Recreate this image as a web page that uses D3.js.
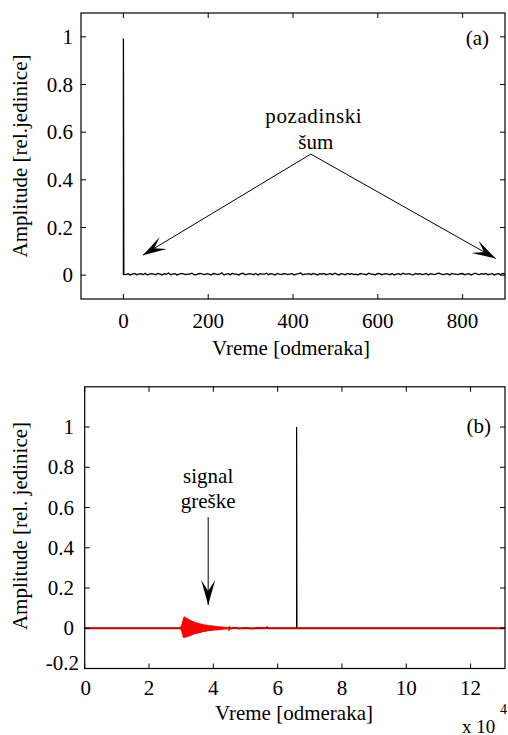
<!DOCTYPE html>
<html>
<head>
<meta charset="utf-8">
<script src="https://cdn.jsdelivr.net/npm/d3@7"></script>
<style>
  body { margin: 0; background: #fff; font-family: "Times New Roman", Times, serif; }
</style>
</head>
<body>
<div id="chart"></div>
<script>
// ---- data (a) ----
var spikeA = [[0, 0], [0, 0.993]];
// background noise, thousandths, read along the trace from x=1 to x=900
var noiseA = [4,2,6,1,4,7,2,4,6,2,8,1,4,6,4,2,7,4,1,6,4,9,2,4,6,1,4,7,5,2,
              4,4,8,2,1,6,7,4,2,6,4,1,7,5,2,4,10,1,4,6,2,7,4,4,1,6,8,2,4,6,
              4,2,7,1,6,4,4,8,2,6,4,1,7,4,2,6,5,2,4,7,1,4,6,9,2,4,4,6,2,7,
              4,1,6,4,7,2,4,6,2,8,4,1,6,4,2,7,4,6,2,4,1,7,5,4,2,8,4,4,1,6,
              7,2,4,6,4,2,7,1,4,6,2,8,4,4,6,2,1,7,4,6,2,4,7,1,6,4,2,6,8,4,
              2,4,6,1,7,4,4,2,6,7,2,4,6,1,4,8,4,2,6,4,7,2,4,6,1,4,6,2,7,4];
var xTicksA = [0, 200, 400, 600, 800];
var yTicksA = [0, 0.2, 0.4, 0.6, 0.8, 1];
var noteA = { text: ["pozadinski", "šum"], from: [442, 0.508], to: [[46, 0.084], [878, 0.07]] };

// ---- data (b) ----  x in samples
var refB = [[0, 0], [65900, 0], [65900, 1.0], [66000, 0], [130700, 0]];
// fault signal burst, thousandths, every 120 samples from 29800
var burstB = [4,-6,10,-15,22,-30,38,-45,52,-48,58,-44,55,-47,50,-42,52,-40,48,-43,
              46,-38,44,-40,42,-35,40,-37,38,-33,36,-34,35,-30,33,-31,32,-28,30,-29,
              29,-26,28,-27,27,-24,26,-25,25,-22,24,-23,23,-21,22,-21,21,-19,20,-19,
              19,-18,19,-17,18,-17,17,-16,17,-15,16,-15,16,-14,15,-14,15,-13,14,-13,
              14,-12,13,-12,13,-11,12,-11,12,-10,11,-10,11,-9,10,-9,10,-9,9,-8,
              9,-8,9,-8,8,-7,8,-7,8,-7,7,-6,7,-6,6,-6,6,-5,5,-5,5,-4,4,-4,
              4,-3,3,-3,3,-2];
var tailB = [[46500, 2], [48000, -1], [50000, 1], [52000, -1], [54000, 1], [56300, 0], [56700, 5], [57100, 0], [130700, 0]];
var xTicksB = [0, 2, 4, 6, 8, 10, 12];
var yTicksB = [-0.2, 0, 0.2, 0.4, 0.6, 0.8, 1];
var noteB = { text: ["signal", "greške"], from: [38400, 0.552], to: [38400, 0.116] };

var W = 508, H = 735, FS = 21;
var FONT = "Times New Roman, Times, serif";
var svg = d3.select("#chart").append("svg").attr("width", W).attr("height", H)
  .attr("font-family", FONT);

function txt(g, s, size) {
  return g.append("text").attr("font-family", FONT).attr("font-size", size || FS)
    .attr("fill", "#000").text(s);
}

function box(g, x, y) {
  var x0 = x.range()[0], x1 = x.range()[1], y0 = y.range()[1], y1 = y.range()[0];
  g.append("rect").attr("x", x0).attr("y", y0).attr("width", x1 - x0).attr("height", y1 - y0)
    .attr("fill", "none").attr("stroke", "#000").attr("stroke-width", 1.2);
}

function ticks(g, x, y, xt, yt, xval, tl) {
  var x0 = x.range()[0], x1 = x.range()[1], yTop = y.range()[1], yBot = y.range()[0];
  xt.forEach(function(t) {
    var px = x(xval(t));
    g.append("line").attr("x1", px).attr("x2", px).attr("y1", yBot).attr("y2", yBot - tl).attr("stroke", "#000");
    g.append("line").attr("x1", px).attr("x2", px).attr("y1", yTop).attr("y2", yTop + tl).attr("stroke", "#000");
  });
  yt.forEach(function(t) {
    var py = y(t);
    g.append("line").attr("x1", x0).attr("x2", x0 + tl).attr("y1", py).attr("y2", py).attr("stroke", "#000");
    g.append("line").attr("x1", x1).attr("x2", x1 - tl).attr("y1", py).attr("y2", py).attr("stroke", "#000");
  });
}

function arrow(g, p0, p1, L, Wd) {
  g.append("line").attr("x1", p0[0]).attr("y1", p0[1]).attr("x2", p1[0]).attr("y2", p1[1])
    .attr("stroke", "#000").attr("stroke-width", 1);
  var dx = p1[0] - p0[0], dy = p1[1] - p0[1], len = Math.sqrt(dx * dx + dy * dy);
  var ux = dx / len, uy = dy / len, nx = -uy, ny = ux;
  var b = [p1[0] - L * ux, p1[1] - L * uy];
  var pts = [p1,
    [b[0] + Wd * nx - 0.25 * L * ux, b[1] + Wd * ny - 0.25 * L * uy],
    [p1[0] - 0.7 * L * ux, p1[1] - 0.7 * L * uy],
    [b[0] - Wd * nx - 0.25 * L * ux, b[1] - Wd * ny - 0.25 * L * uy]];
  g.append("path").attr("d", "M" + pts.join("L") + "Z").attr("fill", "#000");
}

// ================= (a) =================
var gA = svg.append("g");
var xA = d3.scaleLinear().domain([-100, 900]).range([81, 505]);
var yA = d3.scaleLinear().domain([-0.1, 1.1]).range([299, 13]);

var step = 899 / (noiseA.length - 1);
var traceA = spikeA.concat(noiseA.map(function(v, i) { return [1 + i * step, v / 1000]; }));
var line = d3.line().x(function(d) { return xA(d[0]); }).y(function(d) { return yA(d[1]); });
gA.append("path").datum(traceA).attr("d", line).attr("fill", "none").attr("stroke", "#000").attr("stroke-width", 1.3);

ticks(gA, xA, yA, xTicksA, yTicksA, function(t) { return t; }, 5);
box(gA, xA, yA);

xTicksA.forEach(function(d) {
  txt(gA, d).attr("x", xA(d)).attr("y", 328).attr("text-anchor", "middle");
});
yTicksA.forEach(function(d) {
  txt(gA, d).attr("x", 73).attr("y", yA(d) + 7).attr("text-anchor", "end");
});
txt(gA, "Vreme [odmeraka]").attr("x", 291).attr("y", 355).attr("text-anchor", "middle");
txt(gA, "Amplitude [rel.jedinice]").attr("transform", "translate(27,156) rotate(-90)").attr("text-anchor", "middle");
txt(gA, "(a)").attr("x", 489).attr("y", 45).attr("text-anchor", "end");

txt(gA, noteA.text[0]).attr("x", xA(noteA.from[0]) + 3).attr("y", 123).attr("text-anchor", "middle")
  .attr("letter-spacing", 0.6);
txt(gA, noteA.text[1]).attr("x", xA(noteA.from[0]) + 5).attr("y", 149).attr("text-anchor", "middle");
noteA.to.forEach(function(t) {
  arrow(gA, [xA(noteA.from[0]), yA(noteA.from[1])], [xA(t[0]), yA(t[1])], 19, 7);
});

// ================= (b) =================
var gB = svg.append("g");
var xB = d3.scaleLinear().domain([0, 130700]).range([84.7, 505]);
var yB = d3.scaleLinear().domain([-0.2, 1.2]).range([668.5, 386.8]);
var lineB = d3.line().x(function(d) { return xB(d[0]); }).y(function(d) { return yB(d[1]); });

gB.append("path").datum(refB).attr("d", lineB).attr("fill", "none").attr("stroke", "#000").attr("stroke-width", 1.2);

var burstPts = burstB.map(function(v, i) { return [29800 + i * 120, v / 1000]; });
var lastBurst = burstPts[burstPts.length - 1];
gB.append("path").datum([[29600, 0]].concat(burstPts)).attr("d", lineB).attr("fill", "none")
  .attr("stroke", "#ff0000").attr("stroke-width", 1.5);
gB.append("path").datum([[0, 0], [29800, 0]]).attr("d", lineB).attr("fill", "none")
  .attr("stroke", "#cc0000").attr("stroke-width", 2);
gB.append("path").datum([lastBurst].concat(tailB.map(function(d) { return [d[0], d[1] / 1000]; })))
  .attr("d", lineB).attr("fill", "none").attr("stroke", "#cc0000").attr("stroke-width", 2);

ticks(gB, xB, yB, xTicksB, yTicksB, function(t) { return t * 1e4; }, 5);
box(gB, xB, yB);

xTicksB.forEach(function(d) {
  txt(gB, d).attr("x", xB(d * 1e4) + (d === 0 ? 1 : 0)).attr("y", 695).attr("text-anchor", "middle");
});
yTicksB.forEach(function(d) {
  txt(gB, d).attr("x", d < 0 ? 79 : 74).attr("y", yB(d) + (d < 0 ? 1 : 7)).attr("text-anchor", "end");
});
txt(gB, "Vreme [odmeraka]").attr("x", 294).attr("y", 720).attr("text-anchor", "middle");
txt(gB, "Amplitude [rel. jedinice]").attr("transform", "translate(27,526) rotate(-90)").attr("text-anchor", "middle");
txt(gB, "(b)").attr("x", 491).attr("y", 433).attr("text-anchor", "end");
txt(gB, "x 10", 19).attr("x", 462).attr("y", 733);
txt(gB, "4", 14).attr("x", 500).attr("y", 714);

txt(gB, noteB.text[0]).attr("x", xB(noteB.from[0])).attr("y", 483).attr("text-anchor", "middle");
txt(gB, noteB.text[1]).attr("x", xB(noteB.from[0])).attr("y", 508).attr("text-anchor", "middle");
arrow(gB, [xB(noteB.from[0]), yB(noteB.from[1])], [xB(noteB.to[0]), yB(noteB.to[1])], 20, 7);
</script>
</body>
</html>
